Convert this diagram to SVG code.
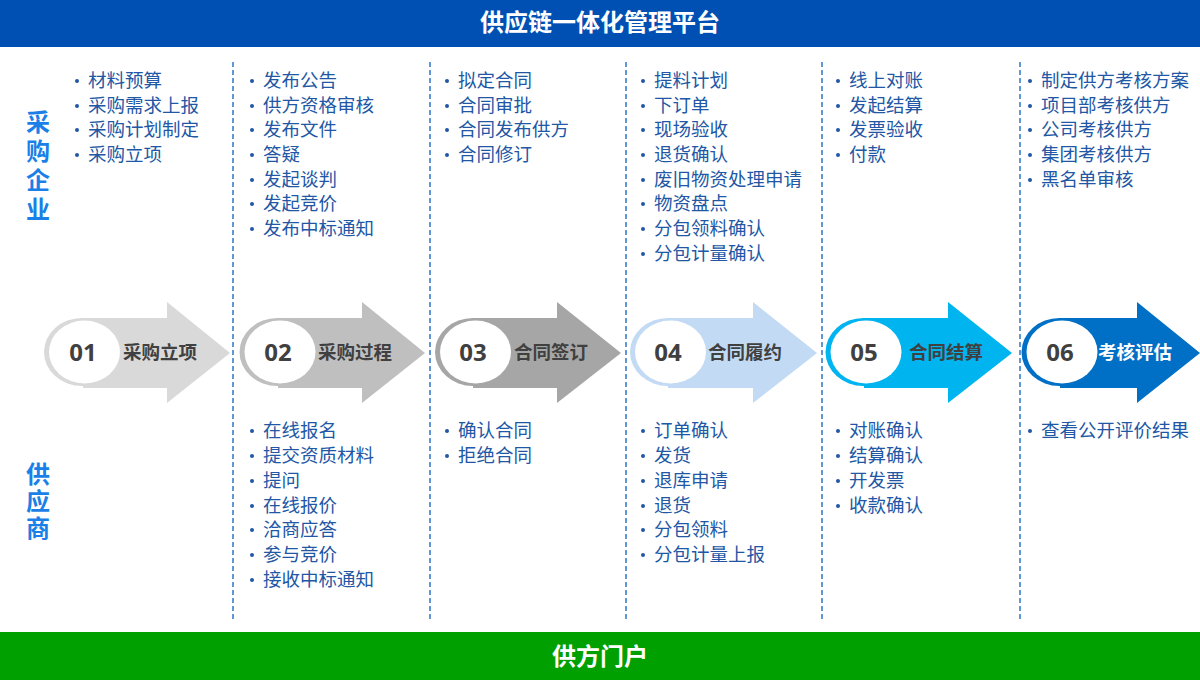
<svg xmlns="http://www.w3.org/2000/svg" width="1200" height="680" viewBox="0 0 1200 680">
<defs><circle id="b" r="2" fill="#2157A5"/></defs>
<style>
.bar{font-family:"Noto Sans CJK SC","Noto Sans",sans-serif;font-weight:bold;font-size:24px;fill:#fff;text-anchor:middle}
.side{font-family:"Noto Sans CJK SC","Noto Sans",sans-serif;font-weight:bold;font-size:24px;fill:#1A7FE6;writing-mode:vertical-rl;letter-spacing:5px}
.li{font-family:"Noto Sans CJK SC","Noto Sans",sans-serif;font-size:18.5px;fill:#2157A5}
.num{font-family:"Open Sans","Noto Sans",sans-serif;font-weight:bold;font-size:24px;fill:#404040;text-anchor:middle}
.lab{font-family:"Noto Sans CJK SC","Noto Sans",sans-serif;font-weight:bold;font-size:18.5px;fill:#404040;text-anchor:middle}
.dash{stroke:#2E75C8;stroke-width:1.5;stroke-dasharray:5 3;fill:none}
</style>
<rect width="1200" height="680" fill="#fff"/>
<g id="top-bar"><rect x="0" y="0" width="1200" height="47" fill="#0050B4"/><text class="bar" x="600" y="31">供应链一体化管理平台</text></g>
<g id="bottom-bar"><rect x="0" y="632" width="1200" height="48" fill="#00A000"/><text class="bar" x="600" y="665">供方门户</text></g>
<g id="side-labels">
<text class="side" x="38" y="110">采购企业</text>
<text class="side" x="38" y="462" style="letter-spacing:3px">供应商</text>
</g>
<g id="connectors">
<line class="dash" x1="233" y1="62" x2="233" y2="622"/>
<line class="dash" x1="430" y1="62" x2="430" y2="622"/>
<line class="dash" x1="626" y1="62" x2="626" y2="622"/>
<line class="dash" x1="822" y1="62" x2="822" y2="622"/>
<line class="dash" x1="1020" y1="62" x2="1020" y2="622"/>
</g>
<g id="step1">
<polygon points="83,318 167,318 167,302 230,353 167,403 167,388 83,388" fill="#D9D9D9"/>
<ellipse cx="82" cy="352" rx="38" ry="34" fill="#D9D9D9"/><ellipse cx="84.5" cy="352" rx="35.5" ry="31.5" fill="#fff"/>
<text class="num" x="83" y="361">01</text><text class="lab" x="160" y="359">采购立项</text>
</g>
<g id="step2">
<polygon points="278,318 362,318 362,302 425,353 362,403 362,388 278,388" fill="#BFBFBF"/>
<ellipse cx="277.5" cy="352" rx="38" ry="34" fill="#BFBFBF"/><ellipse cx="280" cy="352" rx="35.5" ry="31.5" fill="#fff"/>
<text class="num" x="278" y="361">02</text><text class="lab" x="355" y="359">采购过程</text>
</g>
<g id="step3">
<polygon points="473,318 557,318 557,302 621,353 557,403 557,388 473,388" fill="#A6A6A6"/>
<ellipse cx="473" cy="352" rx="38" ry="34" fill="#A6A6A6"/><ellipse cx="475.5" cy="352" rx="35.5" ry="31.5" fill="#fff"/>
<text class="num" x="473" y="361">03</text><text class="lab" x="551" y="359">合同签订</text>
</g>
<g id="step4">
<polygon points="668,318 753,318 753,302 817,353 753,403 753,388 668,388" fill="#C2DAF4"/>
<ellipse cx="668" cy="352" rx="38" ry="34" fill="#C2DAF4"/><ellipse cx="670.5" cy="352" rx="35.5" ry="31.5" fill="#fff"/>
<text class="num" x="668" y="361">04</text><text class="lab" x="745" y="359">合同履约</text>
</g>
<g id="step5">
<polygon points="864,318 948,318 948,302 1012,353 948,403 948,388 864,388" fill="#00B4F0"/>
<ellipse cx="863.5" cy="352" rx="38" ry="34" fill="#00B4F0"/><ellipse cx="866" cy="352" rx="35.5" ry="31.5" fill="#fff"/>
<text class="num" x="864" y="361">05</text><text class="lab" x="946" y="359">合同结算</text>
</g>
<g id="step6">
<polygon points="1060,318 1137,318 1137,302 1200,353 1137,403 1137,388 1060,388" fill="#0070C6"/>
<ellipse cx="1059.5" cy="352" rx="38" ry="34" fill="#0070C6"/><ellipse cx="1062" cy="352" rx="35.5" ry="31.5" fill="#fff"/>
<text class="num" x="1060" y="361">06</text><text class="lab" x="1135" y="359" style="fill:#fff">考核评估</text>
</g>
<g id="bullets">
<use href="#b" x="77" y="81"/><use href="#b" x="77" y="106"/><use href="#b" x="77" y="130"/><use href="#b" x="77" y="155"/>
<use href="#b" x="252" y="81"/><use href="#b" x="252" y="106"/><use href="#b" x="252" y="130"/><use href="#b" x="252" y="155"/><use href="#b" x="252" y="180"/><use href="#b" x="252" y="204"/><use href="#b" x="252" y="229"/>
<use href="#b" x="447" y="81"/><use href="#b" x="447" y="106"/><use href="#b" x="447" y="130"/><use href="#b" x="447" y="155"/>
<use href="#b" x="643" y="81"/><use href="#b" x="643" y="106"/><use href="#b" x="643" y="130"/><use href="#b" x="643" y="155"/><use href="#b" x="643" y="180"/><use href="#b" x="643" y="204"/><use href="#b" x="643" y="229"/><use href="#b" x="643" y="254"/>
<use href="#b" x="838" y="81"/><use href="#b" x="838" y="106"/><use href="#b" x="838" y="130"/><use href="#b" x="838" y="155"/>
<use href="#b" x="1030" y="81"/><use href="#b" x="1030" y="106"/><use href="#b" x="1030" y="130"/><use href="#b" x="1030" y="155"/><use href="#b" x="1030" y="180"/>
<use href="#b" x="252" y="431"/><use href="#b" x="252" y="456"/><use href="#b" x="252" y="481"/><use href="#b" x="252" y="506"/><use href="#b" x="252" y="530"/><use href="#b" x="252" y="555"/><use href="#b" x="252" y="580"/>
<use href="#b" x="447" y="431"/><use href="#b" x="447" y="456"/>
<use href="#b" x="643" y="431"/><use href="#b" x="643" y="456"/><use href="#b" x="643" y="481"/><use href="#b" x="643" y="506"/><use href="#b" x="643" y="530"/><use href="#b" x="643" y="555"/>
<use href="#b" x="838" y="431"/><use href="#b" x="838" y="456"/><use href="#b" x="838" y="481"/><use href="#b" x="838" y="506"/>
<use href="#b" x="1030" y="431"/>
</g>
<g id="buyer-lists" class="li">
<text x="88" y="87">材料预算</text><text x="88" y="112">采购需求上报</text><text x="88" y="136">采购计划制定</text><text x="88" y="161">采购立项</text>
<text x="263" y="87">发布公告</text><text x="263" y="112">供方资格审核</text><text x="263" y="136">发布文件</text><text x="263" y="161">答疑</text><text x="263" y="186">发起谈判</text><text x="263" y="210">发起竞价</text><text x="263" y="235">发布中标通知</text>
<text x="458" y="87">拟定合同</text><text x="458" y="112">合同审批</text><text x="458" y="136">合同发布供方</text><text x="458" y="161">合同修订</text>
<text x="654" y="87">提料计划</text><text x="654" y="112">下订单</text><text x="654" y="136">现场验收</text><text x="654" y="161">退货确认</text><text x="654" y="186">废旧物资处理申请</text><text x="654" y="210">物资盘点</text><text x="654" y="235">分包领料确认</text><text x="654" y="260">分包计量确认</text>
<text x="849" y="87">线上对账</text><text x="849" y="112">发起结算</text><text x="849" y="136">发票验收</text><text x="849" y="161">付款</text>
<text x="1041" y="87">制定供方考核方案</text><text x="1041" y="112">项目部考核供方</text><text x="1041" y="136">公司考核供方</text><text x="1041" y="161">集团考核供方</text><text x="1041" y="186">黑名单审核</text>
</g>
<g id="supplier-lists" class="li">
<text x="263" y="437">在线报名</text><text x="263" y="462">提交资质材料</text><text x="263" y="487">提问</text><text x="263" y="512">在线报价</text><text x="263" y="536">洽商应答</text><text x="263" y="561">参与竞价</text><text x="263" y="586">接收中标通知</text>
<text x="458" y="437">确认合同</text><text x="458" y="462">拒绝合同</text>
<text x="654" y="437">订单确认</text><text x="654" y="462">发货</text><text x="654" y="487">退库申请</text><text x="654" y="512">退货</text><text x="654" y="536">分包领料</text><text x="654" y="561">分包计量上报</text>
<text x="849" y="437">对账确认</text><text x="849" y="462">结算确认</text><text x="849" y="487">开发票</text><text x="849" y="512">收款确认</text>
<text x="1041" y="437">查看公开评价结果</text>
</g>
</svg>
